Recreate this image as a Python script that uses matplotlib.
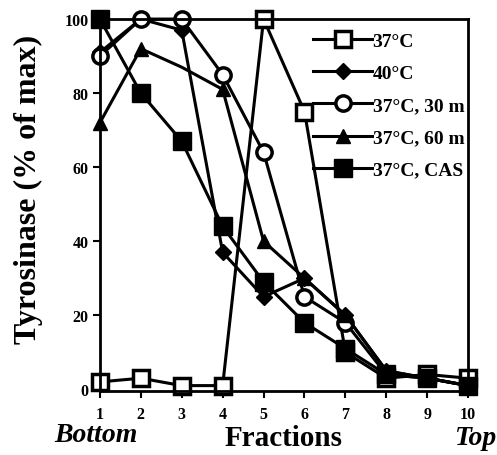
import matplotlib
matplotlib.use("Agg")
import matplotlib.pyplot as plt

fractions = [1, 2, 3, 4, 5, 6, 7, 8, 9, 10]
t37 = [2, 3, 1, 1, 100, 75, 10, 3, 4, 3]
t40 = [91, 100, 97, 37, 25, 30, 20, 5, 3, 1]
t37_30m = [90, 100, 100, 85, 64, 25, 18, 4, 3, 1]
t37_60m = [72, 92, 87, 81, 40, 30, 20, 5, 3, 1]
t37_cas = [100, 80, 67, 44, 29, 18, 11, 4, 3, 1]
yticks = [0, 20, 40, 60, 80, 100]

plt.rcParams["font.family"] = ["Liberation Serif", "DejaVu Serif"]
plt.rcParams["font.weight"] = "bold"

fig = plt.figure(figsize=(4.97, 4.56), dpi=100)
ax = fig.add_axes([0.201, 0.140, 0.741, 0.816])

kw = dict(color="black", lw=2.2, clip_on=False)
ax.plot(fractions, t37, marker="s", ms=12, mfc="white", mew=2.5, label="37°C", **kw)
ax.plot(fractions, t40, marker="D", ms=8, mfc="black", label="40°C", **kw)
ax.plot(fractions, t37_30m, marker="o", ms=11, mfc="white", mew=2.5, label="37°C, 30 m", **kw)
ax.plot(fractions, t37_60m, marker="^", ms=10, mfc="black", label="37°C, 60 m",
        markevery=[0, 1, 3, 4, 5, 6, 7, 8, 9], **kw)
ax.plot(fractions, t37_cas, marker="s", ms=13, mfc="black", label="37°C, CAS", **kw)

ax.set_xlim(1, 10)
ax.set_ylim(-0.5, 100)
ax.set_xticks(fractions)
ax.set_yticks(yticks)
ax.tick_params(labelsize=11.5, length=5, width=1.5)
ax.tick_params(axis="y", pad=3)
ax.tick_params(axis="x", pad=6)
for s in ax.spines.values():
    s.set_linewidth(2)

ax.set_ylabel("Tyrosinase (% of max)", fontsize=23, fontweight="bold")
ax.yaxis.set_label_coords(-0.155, 0.546)
fig.text(0.57, 0.022, "Fractions", fontsize=21, fontweight="bold", ha="center")
fig.text(0.193, 0.03, "Bottom", fontsize=20, fontweight="bold", style="italic", ha="center")
fig.text(0.915, 0.024, "Top", fontsize=20, fontweight="bold", style="italic", ha="left")

leg = ax.legend(loc="upper right", frameon=False, fontsize=14, handlelength=3.0,
                handletextpad=0.05, labelspacing=0.75, borderaxespad=0.0,
                borderpad=0.2, bbox_to_anchor=(1.0, 0.975))

fig.savefig("out.png", dpi=100)
